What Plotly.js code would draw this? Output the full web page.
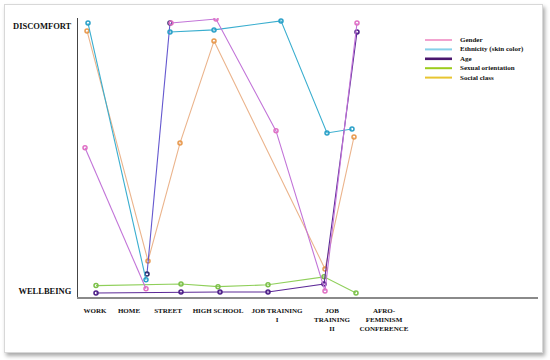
<!DOCTYPE html>
<html>
<head>
<meta charset="utf-8">
<script src="https://cdn.plot.ly/plotly-3.0.1.min.js"></script>
<style>
  body { margin: 0; background: #fff; }
  #chart { width: 550px; height: 360px; }
  #frame {
    position: absolute; left: 4px; top: 4px; width: 537px; height: 347px;
    border: 1px solid #d8d8d8; box-shadow: 2px 3px 4px #aaa; pointer-events: none;
  }
</style>
</head>
<body>
<div id="chart"></div>
<div id="frame"></div>
<script>
// stages along the route, and where each label sits on the x scale
var stages = ['WORK', 'HOME', 'STREET', 'HIGH SCHOOL', 'JOB TRAINING<br>I', 'JOB<br>TRAINING<br>II', 'AFRO-<br>FEMINISM<br>CONFERENCE'];
var stagePos = [95, 129, 168, 218, 277, 332, 384];

// 0 = wellbeing, 10 = discomfort
var genderX = [85, 146, null, 171, 216, 276, 325, 357];
var genderY = [5.4, 0.08, null, 10.11, 10.26, 6.04, 0.0, 10.11];

var ethnicityX = [88, 146, null, 170, 214, 281, 327, 352];
var ethnicityY = [10.11, 0.42, null, 9.77, 9.85, 10.19, 5.96, 6.11];

var ageX = [96, 181, 220, 268, 324, 357];
var ageY = [-0.08, -0.04, -0.04, -0.04, 0.26, 9.77];
var ageHomeX = [147, 170];
var ageHomeY = [0.64, 10.11];

var sexualX = [96, 181, 218, 268, 324, 356];
var sexualY = [0.2, 0.26, 0.16, 0.23, 0.53, -0.08];

var classX = [87, 148, 180, 214, 325, 354];
var classY = [9.81, 1.13, 5.58, 9.43, 0.83, 5.81];

var names = ['Gender', 'Ethnicity (skin color)', 'Age', 'Sexual orientation', 'Social class'];
var legendColors = ['#f2a3cf', '#86d0ea', '#4a176e', '#9ccc1c', '#e8c531'];

function series(x, y, line, mark) {
  return {
    x: x, y: y, type: 'scatter', mode: 'lines+markers', showlegend: false,
    line: { color: line, width: 1.1 },
    marker: { symbol: 'circle-open', size: 4, color: mark, line: { width: 1.5 } }
  };
}

var data = [
  series(classX, classY, '#ebb48c', '#e89a4e'),
  series(sexualX, sexualY, '#8fcf5a', '#7cc04a'),
  series(ageX, ageY, '#5d2a98', '#4a1c86'),
  series(ageHomeX, ageHomeY, '#6457cf', '#2a2a6a'),
  series(ethnicityX, ethnicityY, '#3aaecf', '#2aa0c8'),
  series(genderX, genderY, '#c274d8', '#e070c4')
];

var serif = 'Liberation Serif, Times New Roman, serif';

// hand-made legend (tight spacing like the reference)
var annotations = [];
var shapes = [];
for (var i = 0; i < names.length; i++) {
  var py = (297 - (40 + i * 9.4)) / 279;
  annotations.push({
    xref: 'paper', yref: 'paper', x: (459 - 78) / 460, y: py,
    xanchor: 'left', yanchor: 'middle', showarrow: false, borderpad: 0,
    text: '<b>' + names[i] + '</b>',
    font: { family: serif, size: 7, color: '#111' }
  });
  shapes.push({
    type: 'line', xref: 'paper', yref: 'paper',
    x0: (425 - 78) / 460, x1: (452 - 78) / 460, y0: py, y1: py,
    line: { color: legendColors[i], width: i === 2 ? 2.6 : 2 }
  });
}

var layout = {
  width: 550, height: 360,
  margin: { l: 78, r: 12, t: 18, b: 63 },
  paper_bgcolor: '#fff', plot_bgcolor: '#fff',
  xaxis: {
    range: [78, 538], tickvals: stagePos, ticktext: stages.map(function (s) { return '<b>' + s + '</b>'; }),
    showgrid: false, zeroline: false, showline: true, linecolor: '#8a8a8a', linewidth: 1.5,
    ticks: '', ticklabelstandoff: 6, tickangle: 0,
    tickfont: { family: serif, size: 7, color: '#111' }
  },
  yaxis: {
    range: [-0.23, 10.3], tickvals: [0, 10], ticktext: ['<b>WELLBEING</b>', '<b>DISCOMFORT</b>'],
    showgrid: false, zeroline: false, showline: true, linecolor: '#444', linewidth: 1,
    ticks: '', ticklabelstandoff: 4,
    tickfont: { family: serif, size: 8.5, color: '#111' }
  },
  annotations: annotations,
  shapes: shapes
};

Plotly.newPlot('chart', data, layout, { displayModeBar: false, staticPlot: true });
</script>
</body>
</html>
